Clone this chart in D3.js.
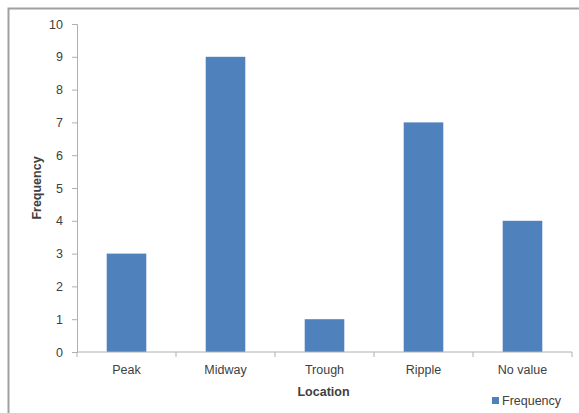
<!DOCTYPE html>
<html>
<head>
<meta charset="utf-8">
<script src="https://cdn.jsdelivr.net/npm/d3@7"></script>
<style>
  html, body { margin: 0; padding: 0; background: #fff; }
  svg { display: block; }
  text { font-family: "Liberation Sans", Arial, sans-serif; fill: #404040; }
</style>
</head>
<body>
<svg id="chart" width="579" height="413"></svg>
<script>
// Frequency of observations by location
const categories = ["Peak", "Midway", "Trough", "Ripple", "No value"];
const frequency = [3, 9, 1, 7, 4];
const yTicks = [0, 1, 2, 3, 4, 5, 6, 7, 8, 9, 10];
const seriesName = "Frequency";
const xTitle = "Location";
const yTitle = "Frequency";

const svg = d3.select("#chart");
const W = 579, H = 413;
const plot = { left: 77, right: 572, top: 24, bottom: 352 };
const fs = 12.5;

// chart frame (open to the right/bottom edge of the page)
svg.append("rect")
  .attr("x", 8.5).attr("y", 8.5)
  .attr("width", W + 10).attr("height", H + 10)
  .attr("fill", "#fff")
  .attr("stroke", "#a0a0a0").attr("stroke-width", 2);

const x = d3.scaleBand()
  .domain(categories)
  .range([plot.left, plot.right])
  .paddingInner(0.6).paddingOuter(0.3);

const y = d3.scaleLinear()
  .domain([0, 10])
  .range([plot.bottom, plot.top]);

// bars
svg.append("g").selectAll("rect")
  .data(categories.map((c, i) => ({ c, v: frequency[i] })))
  .join("rect")
  .attr("x", d => x(d.c))
  .attr("y", d => y(d.v))
  .attr("width", x.bandwidth())
  .attr("height", d => y(0) - y(d.v))
  .attr("fill", "#4f81bd");

// y axis
const yAxis = svg.append("g")
  .attr("transform", `translate(${plot.left},0)`)
  .call(d3.axisLeft(y).tickValues(yTicks).tickSize(5).tickPadding(9));
yAxis.select(".domain").attr("stroke", "#b0b0b0");
yAxis.selectAll(".tick line").attr("stroke", "#b0b0b0");
yAxis.selectAll(".tick text")
  .attr("font-size", fs).attr("fill", "#404040")
  .style("font-family", "Liberation Sans, Arial, sans-serif");

// x axis: ticks sit on category boundaries
const step = x.step();
const boundaries = d3.range(categories.length + 1).map(i => plot.left + i * step);
const xAxis = svg.append("g").attr("transform", `translate(0,${plot.bottom})`);
xAxis.append("line")
  .attr("x1", plot.left).attr("x2", plot.right)
  .attr("stroke", "#b0b0b0");
xAxis.selectAll("line.tk").data(boundaries).join("line")
  .attr("class", "tk")
  .attr("x1", d => d).attr("x2", d => d)
  .attr("y1", 0).attr("y2", 5)
  .attr("stroke", "#b0b0b0");
xAxis.selectAll("text").data(categories).join("text")
  .attr("x", d => x(d) + x.bandwidth() / 2)
  .attr("y", 22)
  .attr("text-anchor", "middle")
  .attr("font-size", fs)
  .text(d => d);

// axis titles
svg.append("text")
  .attr("x", (plot.left + plot.right) / 2 - 1)
  .attr("y", 396)
  .attr("text-anchor", "middle")
  .attr("font-size", fs).attr("font-weight", "bold")
  .attr("fill", "#262626")
  .text(xTitle);

svg.append("text")
  .attr("transform", `translate(41,${(plot.top + plot.bottom) / 2}) rotate(-90)`)
  .attr("text-anchor", "middle")
  .attr("font-size", fs).attr("font-weight", "bold")
  .attr("fill", "#262626")
  .text(yTitle);

// legend
const lg = svg.append("g").attr("transform", "translate(492,397)");
lg.append("rect").attr("width", 7).attr("height", 7).attr("fill", "#4f81bd");
lg.append("text").attr("x", 10).attr("y", 8)
  .attr("font-size", fs).text(seriesName);
</script>
</body>
</html>
